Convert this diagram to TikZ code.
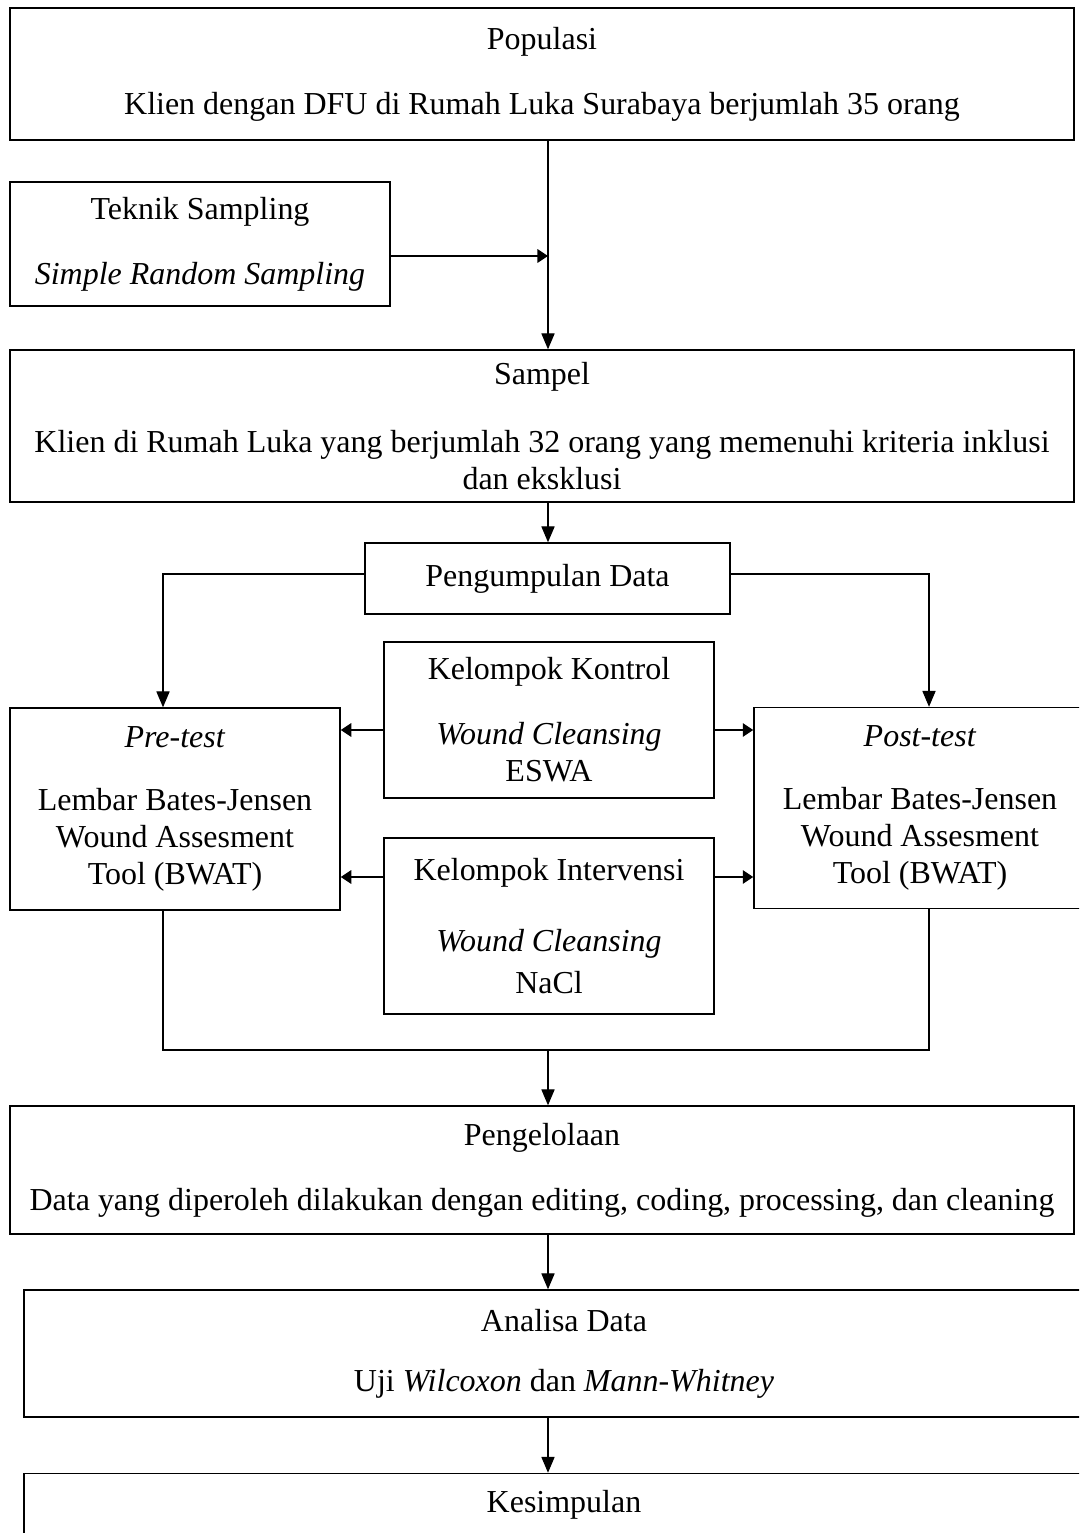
\documentclass[tikz,border=0pt]{standalone}
\usepackage{fontspec}
\setmainfont{Liberation Serif}
\usetikzlibrary{arrows.meta,positioning}

\begin{document}
\begin{tikzpicture}[x=0.02cm, y=-0.02cm, font=\fontsize{18.2}{21}\selectfont,
  box/.style={draw, line width=0.85pt, align=center, inner sep=0pt},
  arr/.style={line width=0.6pt, -{Triangle[length=9pt,width=7.5pt]}},
  sidearr/.style={line width=1.4pt, -{Triangle[length=6pt,width=7.5pt]}}]
\useasboundingbox (0,0) rectangle (1079,1533);
\clip (0,0) rectangle (1079,1533);
% main column
\node[box, minimum width=21.28cm, minimum height=2.64cm] (pop) at (542,74)
  {Populasi\\[16pt]Klien dengan DFU di Rumah Luka Surabaya berjumlah 35 orang};
\node[box, minimum width=7.6cm, minimum height=2.48cm] (teknik) at (200,244)
  {Teknik Sampling\\[16pt]\textit{Simple Random Sampling}};
\node[box, minimum width=21.28cm, minimum height=3.04cm] (sampel) at (542,426)
  {Sampel\\[18pt]Klien di Rumah Luka yang berjumlah 32 orang yang memenuhi kriteria inklusi\\dan eksklusi};
\node[box, minimum width=7.3cm, minimum height=1.42cm] (kumpul) at (547.5,578.5) {Pengumpulan Data};
% groups and measurements
\node[box, minimum width=6.6cm, minimum height=3.12cm] (kontrol) at (549,720)
  {Kelompok Kontrol\\[16pt]\textit{Wound Cleansing}\\ESWA};
\node[box, minimum width=6.6cm, minimum height=3.52cm] (interv) at (549,926)
  {Kelompok Intervensi\\[19pt]\textit{Wound Cleansing}\\[3pt]NaCl};
\node[box, minimum width=6.6cm, minimum height=4.04cm] (pre) at (175,809)
  {\textit{Pre-test}\\[15pt]Lembar Bates-Jensen\\Wound Assesment\\Tool (BWAT)};
\node[box, minimum width=6.64cm, minimum height=4.02cm] (post) at (920,808)
  {\textit{Post-test}\\[15pt]Lembar Bates-Jensen\\Wound Assesment\\Tool (BWAT)};
% processing
\node[box, minimum width=21.28cm, minimum height=2.56cm] (olah) at (542,1170)
  {Pengelolaan\\[16pt]Data yang diperoleh dilakukan dengan editing, coding, processing, dan cleaning};
\node[box, minimum width=21.6cm, minimum height=2.54cm] (analisa) at (564,1353.5)
  {Analisa Data\\[13pt]Uji \textit{Wilcoxon} dan \textit{Mann-Whitney}};
\node[box, minimum width=21.6cm, minimum height=2.54cm, below=1.1cm of analisa] (simpul)
  {Kesimpulan\\[13pt]\strut};
% connectors
\coordinate (spine) at (548,0);
\coordinate (merge) at (548,1050);
\draw[arr] (pop.south -| spine) -- (sampel.north -| spine);
\draw[sidearr] ([yshift=-0.24cm]teknik.east) -- ([yshift=-0.24cm]teknik.east -| spine);
\draw[arr] (sampel.south -| spine) -- (kumpul.north -| spine);
\draw[arr] ([yshift=0.09cm]kumpul.west) -| ([xshift=-0.24cm]pre.north);
\draw[arr] ([yshift=0.09cm]kumpul.east) -| ([xshift=0.18cm]post.north);
\foreach \g/\dy in {kontrol/-0.2cm, interv/0.98cm} {
  \draw[sidearr] ([yshift=\dy]\g.west) -- ([yshift=\dy]\g.west -| pre.east);
  \draw[sidearr] ([yshift=\dy]\g.east) -- ([yshift=\dy]\g.east -| post.west);
}
\draw[line width=0.6pt] ([xshift=-0.24cm]pre.south) |- (merge) -| ([xshift=0.18cm]post.south);
\draw[arr] (merge) -- (olah.north -| merge);
\draw[arr] (olah.south -| spine) -- (analisa.north -| spine);
\draw[arr] (analisa.south -| spine) -- (simpul.north -| spine);
\end{tikzpicture}
\end{document}
